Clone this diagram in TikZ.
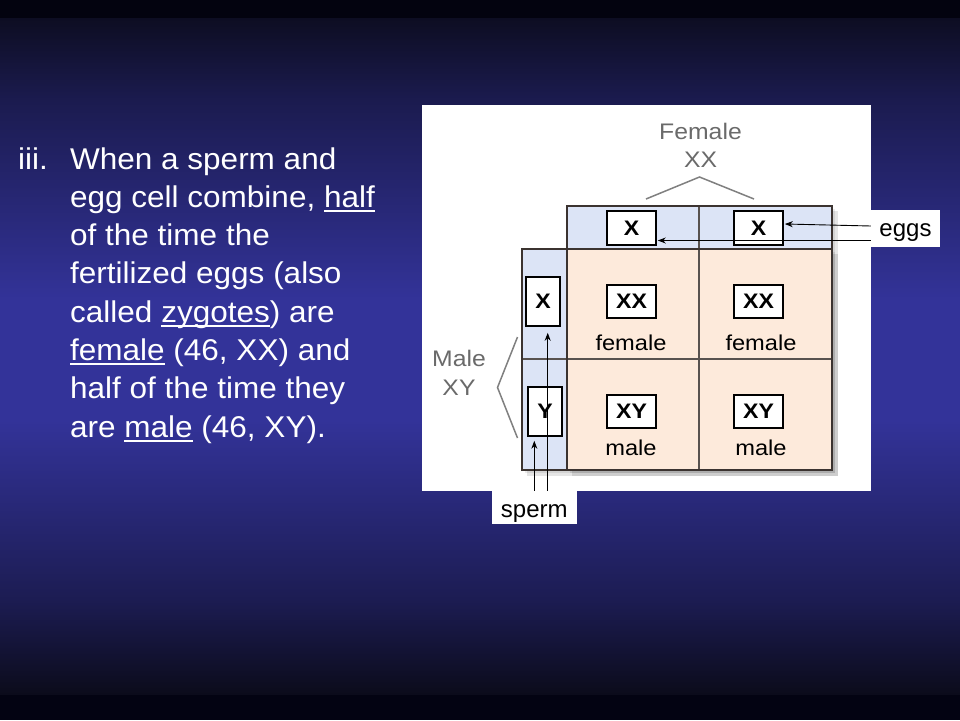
\documentclass[tikz,border=0pt]{standalone}
\usepackage{fontspec}
\setmainfont{Liberation Sans}
\newfontfamily\mainfam[FakeStretch=1.05]{Liberation Sans}
\newfontfamily\diagfam[FakeStretch=1.1]{Liberation Sans}
\usetikzlibrary{arrows.meta,calc}
\definecolor{bgtop}{HTML}{03030F}
\definecolor{bgA}{HTML}{0D0D22}
\definecolor{bgB}{HTML}{1B1B4F}
\definecolor{bgmid}{HTML}{333399}
\definecolor{bgC}{HTML}{1C1C52}
\definecolor{bgD}{HTML}{0B0B1A}
\definecolor{bgbot}{HTML}{030312}
\definecolor{hdrblue}{HTML}{DCE4F6}
\definecolor{peach}{HTML}{FDEADB}
\definecolor{gridc}{HTML}{3B3330}
\definecolor{graytxt}{HTML}{6A6A6A}
\newcommand\myul[1]{\setbox0\hbox{#1}\rlap{\rule[-4.5pt]{\wd0}{2pt}}#1}
\begin{document}
\begin{tikzpicture}[x=1pt,y=-1pt,
  maintxt/.style={anchor=base west, inner sep=0pt, text=white, font=\mainfam\fontsize{30}{36}\selectfont},
  gridline/.style={draw=gridc, line width=2.6pt, line join=miter},
  innerline/.style={draw=gridc!85, line width=1.6pt},
  genebox/.style={draw=black, line width=1.6pt, fill=white, inner sep=0pt, font=\diagfam\bfseries\fontsize{21}{24}\selectfont},
  sexlbl/.style={anchor=base, inner sep=0pt, font=\diagfam\fontsize{21.5}{24}\selectfont},
  parentlbl/.style={anchor=base, inner sep=0pt, text=graytxt, font=\diagfam\fontsize{22.5}{26}\selectfont},
  chev/.style={draw=graytxt!85, line width=1.5pt},
  annot/.style={fill=white, inner sep=0pt, font=\fontsize{24}{28}\selectfont, text depth=0pt},
  arr/.style={draw=black, line width=0.9pt, -{Stealth[length=8pt,width=6pt]}}
]
\useasboundingbox (0,0) rectangle (960,720);
% background
\fill[bgtop] (0,0) rectangle (960,18.5);
\shade[top color=bgA, bottom color=bgB] (0,18) rectangle (960,100.5);
\shade[top color=bgB, bottom color=bgmid] (0,100) rectangle (960,300.5);
\fill[bgmid] (0,300) rectangle (960,420.5);
\shade[top color=bgmid, bottom color=bgC] (0,420) rectangle (960,600.5);
\shade[top color=bgC, bottom color=bgD] (0,600) rectangle (960,695.5);
\fill[bgbot] (0,695) rectangle (960,720);

% left text
\node[maintxt] (num) at (18,169) {iii.};
\node[maintxt] (l1) at (70,169) {When a sperm and};
\node[maintxt] (l2) at (70,207.3) {egg cell combine, \myul{half}};
\node[maintxt] (l3) at (70,245.6) {of the time the};
\node[maintxt] (l4) at (70,283.9) {fertilized eggs (also};
\node[maintxt] (l5) at (70,322.2) {called \myul{zygotes}) are};
\node[maintxt] (l6) at (70,360.5) {\myul{female} (46, XX) and};
\node[maintxt] (l7) at (70,398.8) {half of the time they};
\node[maintxt] (l8) at (70,437.1) {are \myul{male} (46, XY).};

% white panel
\fill[white] (422,105) rectangle (871,491);

% shadows
\fill[black, opacity=0.10] (572,211) rectangle (838,476);
\fill[black, opacity=0.10] (527,254) rectangle (838,476);
\fill[black, opacity=0.08] (570,209) rectangle (835,473);
\fill[black, opacity=0.08] (525,252) rectangle (835,473);

% grid
\fill[hdrblue] (567,206) rectangle (832,249);
\fill[hdrblue] (522,249) rectangle (567,470);
\fill[peach] (567,249) rectangle (832,470);
\draw[innerline] (699,206) -- (699,470);
\draw[innerline] (522,359) -- (832,359);
\draw[gridline] (567,249) -- (567,206) -- (832,206) -- (832,470) -- (522,470) -- (522,249) -- (832,249);
\draw[gridline] (567,249) -- (567,470);

% parent labels
\node[parentlbl] (fem) at (700.5,139) {Female};
\node[parentlbl] (femxx) at (700.5,167) {XX};
\draw[chev] (646,199) -- (699.5,177) -- (754,199);
\node[parentlbl] (mal) at (459,366.5) {Male};
\node[parentlbl] (malxy) at (459,395.5) {XY};
\draw[chev] (517.5,337) -- (497.5,387.5) -- (517.5,438);

% gene boxes
\node[genebox, minimum width=49pt, minimum height=34pt] (ex1) at (631.5,228) {X};
\node[genebox, minimum width=49pt, minimum height=34pt] (ex2) at (758.5,228) {X};
\node[genebox, minimum width=34pt, minimum height=49pt] (sx) at (543,301.5) {X};
\node[genebox, minimum width=34pt, minimum height=49pt] (sy) at (545,411.5) {Y};
\node[genebox, minimum width=49pt, minimum height=33pt] (xx1) at (631.5,301.5) {XX};
\node[genebox, minimum width=49pt, minimum height=33pt] (xx2) at (758.5,301.5) {XX};
\node[genebox, minimum width=49pt, minimum height=33pt] (xy1) at (631.5,411.5) {XY};
\node[genebox, minimum width=49pt, minimum height=33pt] (xy2) at (758.5,411.5) {XY};

% sex labels
\node[sexlbl] (f1) at (631,350) {female};
\node[sexlbl] (f2) at (761,350) {female};
\node[sexlbl] (m1) at (631,455) {male};
\node[sexlbl] (m2) at (761,455) {male};

% annotation labels
\node[annot, minimum width=69pt, minimum height=37pt, text height=15pt] (eggs) at (905.5,228.5) {eggs};
\node[annot, minimum width=85pt, minimum height=33pt, text height=19.4pt] (sperm) at (534.3,507.5) {sperm};

% arrows
\draw[arr] ($(eggs.west)+(0,-2.5)$) -- ($(ex2.east)+(1,-4)$);
\draw[arr] ($(eggs.west)+(0,12)$) -- ($(ex1.east)+(1,12.5)$);
\draw[arr] (sperm.north) -- ($(sy.south)+(-10.7,4)$);
\draw[arr] ($(sperm.north)+(13.4,0)$) -- ($(sx.south)+(4.7,6)$);
\end{tikzpicture}
\end{document}
